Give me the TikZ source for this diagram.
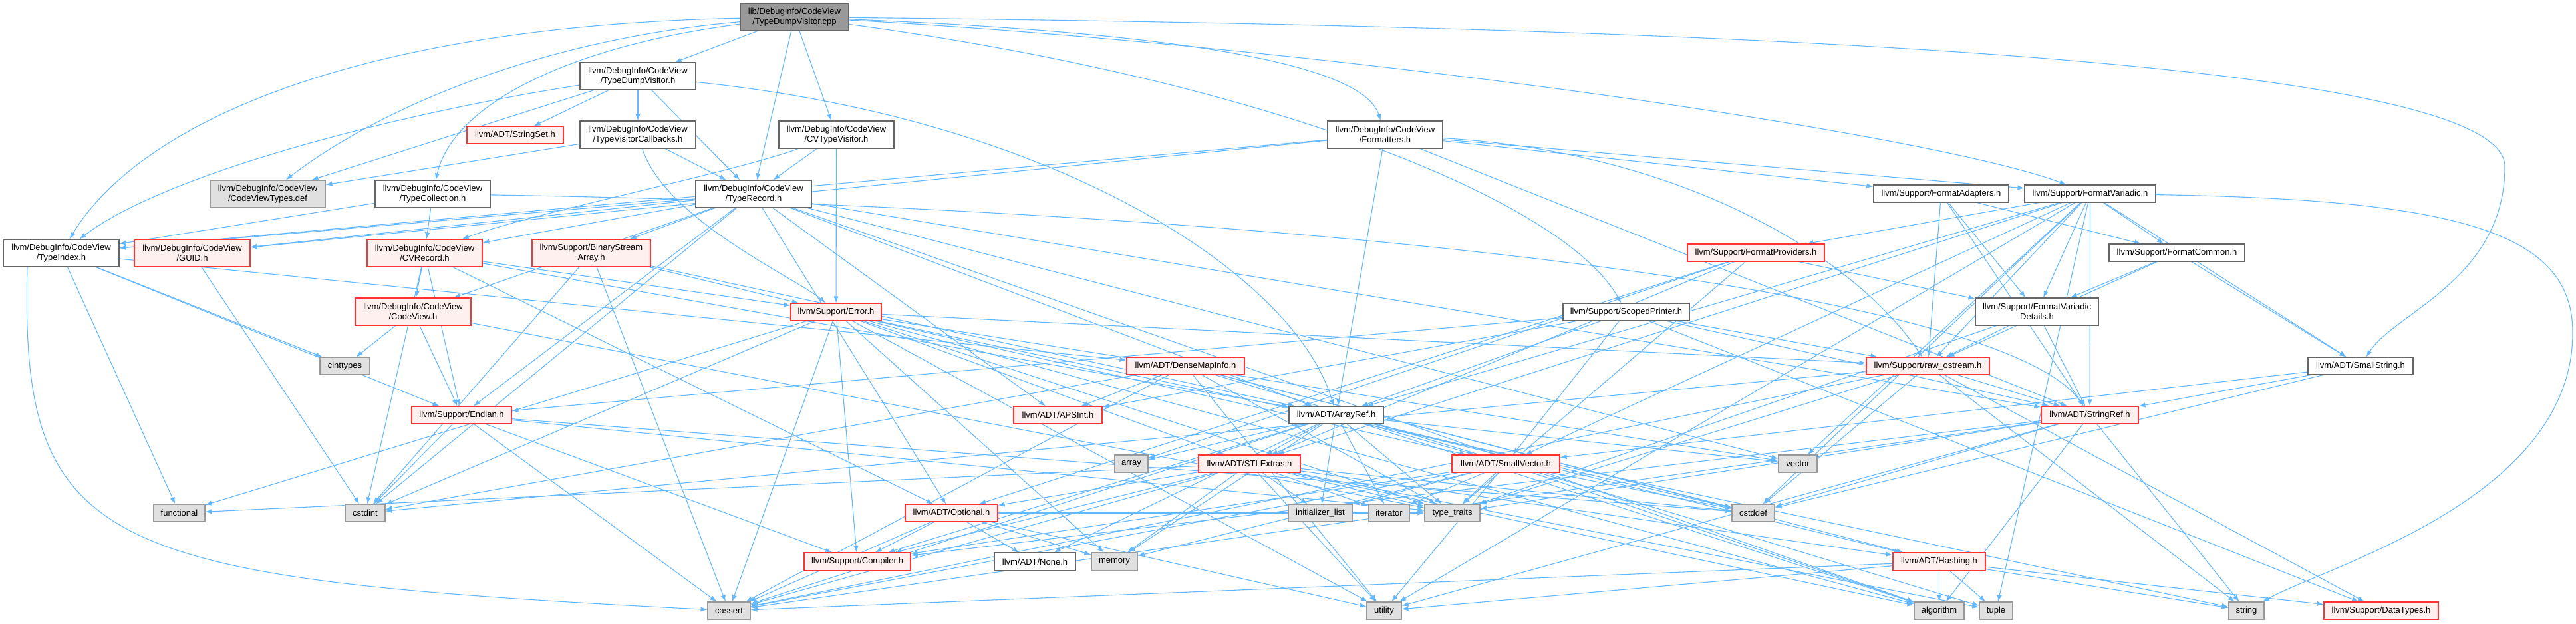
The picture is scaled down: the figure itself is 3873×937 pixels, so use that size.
\documentclass[tikz,border=0pt]{standalone}
\usepackage{fontspec}
\setmainfont{Liberation Sans}
\usetikzlibrary{arrows.meta}
\pgfdeclarelayer{background}
\pgfsetlayers{background,main}
\definecolor{edgeC}{HTML}{63B8FF}
\definecolor{grayD}{HTML}{666666}
\definecolor{grayM}{HTML}{999999}
\definecolor{grayF}{HTML}{E0E0E0}
\definecolor{redB}{HTML}{FF3333}
\definecolor{redF}{HTML}{FFF0F0}
\tikzset{
  base/.style={draw, rectangle, inner sep=0pt, align=center, line width=1.1pt,
    font=\fontsize{13}{15}\selectfont, text=black},
  wn/.style={base, draw=grayD, fill=white},
  rn/.style={base, draw=redB, fill=redF},
  gn/.style={base, draw=grayM, fill=grayF},
  rootn/.style={base, draw=grayD, fill=grayM},
  e/.style={draw=edgeC, line width=1.1pt, -{Latex[length=10pt,width=7.5pt]}},
}
\begin{document}
\begin{tikzpicture}[x=1pt,y=-1pt]
\useasboundingbox (0,0) rectangle (3873,937);
% row 0
\node[rootn, minimum width=163pt, minimum height=41pt] (root) at (1194.5,25.5) {lib/DebugInfo/CodeView\\/TypeDumpVisitor.cpp};
% row 1
\node[wn, minimum width=174pt, minimum height=41pt] (tdvh) at (959,114.5) {llvm/DebugInfo/CodeView\\/TypeDumpVisitor.h};
% row 2
\node[wn, minimum width=174pt, minimum height=41pt] (tvc) at (959,202.5) {llvm/DebugInfo/CodeView\\/TypeVisitorCallbacks.h};
\node[wn, minimum width=173pt, minimum height=41pt] (cvtv) at (1257.5,202.5) {llvm/DebugInfo/CodeView\\/CVTypeVisitor.h};
\node[rn, minimum width=145pt, minimum height=26pt] (sset) at (774.5,203) {llvm/ADT/StringSet.h};
\node[wn, minimum width=173pt, minimum height=41pt] (fmts) at (2082.5,202.5) {llvm/DebugInfo/CodeView\\/Formatters.h};
% row 3
\node[wn, minimum width=174pt, minimum height=41pt] (trec) at (1133,291.5) {llvm/DebugInfo/CodeView\\/TypeRecord.h};
\node[gn, minimum width=173pt, minimum height=41pt] (cvtdef) at (402.5,291.5) {llvm/DebugInfo/CodeView\\/CodeViewTypes.def};
\node[wn, minimum width=173pt, minimum height=41pt] (tcoll) at (650.5,291.5) {llvm/DebugInfo/CodeView\\/TypeCollection.h};
\node[wn, minimum width=203pt, minimum height=26pt] (fadapt) at (2918.5,291) {llvm/Support/FormatAdapters.h};
\node[wn, minimum width=197pt, minimum height=26pt] (fvar) at (3142.5,291) {llvm/Support/FormatVariadic.h};
% row 4
\node[wn, minimum width=174pt, minimum height=41pt] (tidx) at (92,380.5) {llvm/DebugInfo/CodeView\\/TypeIndex.h};
\node[rn, minimum width=174pt, minimum height=41pt] (guid) at (289,380.5) {llvm/DebugInfo/CodeView\\/GUID.h};
\node[rn, minimum width=173pt, minimum height=41pt] (cvrec) at (638.5,380.5) {llvm/DebugInfo/CodeView\\/CVRecord.h};
\node[rn, minimum width=178pt, minimum height=41pt] (bsa) at (889,380.5) {llvm/Support/BinaryStream\\Array.h};
\node[rn, minimum width=206pt, minimum height=26pt] (fprov) at (2640,380) {llvm/Support/FormatProviders.h};
\node[wn, minimum width=204pt, minimum height=26pt] (fcommon) at (3273,380) {llvm/Support/FormatCommon.h};
% row 5
\node[rn, minimum width=174pt, minimum height=41pt] (cview) at (621,468.5) {llvm/DebugInfo/CodeView\\/CodeView.h};
\node[rn, minimum width=136pt, minimum height=26pt] (err) at (1257,469) {llvm/Support/Error.h};
\node[wn, minimum width=190pt, minimum height=26pt] (sprint) at (2445,469) {llvm/Support/ScopedPrinter.h};
\node[wn, minimum width=185pt, minimum height=41pt] (fvd) at (3062.5,468.5) {llvm/Support/FormatVariadic\\Details.h};
% row 6
\node[gn, minimum width=75pt, minimum height=26pt] (cinttypes) at (518.5,550) {cinttypes};
\node[rn, minimum width=177pt, minimum height=26pt] (dmi) at (1782.5,550) {llvm/ADT/DenseMapInfo.h};
\node[rn, minimum width=185pt, minimum height=26pt] (rawos) at (2898.5,550) {llvm/Support/raw\_ostream.h};
\node[wn, minimum width=158pt, minimum height=26pt] (sstr) at (3549,550) {llvm/ADT/SmallString.h};
% row 7
\node[rn, minimum width=150pt, minimum height=26pt] (endian) at (694,624) {llvm/Support/Endian.h};
\node[rn, minimum width=133pt, minimum height=26pt] (apsint) at (1590.5,624) {llvm/ADT/APSInt.h};
\node[wn, minimum width=142pt, minimum height=26pt] (aref) at (2009,624) {llvm/ADT/ArrayRef.h};
\node[rn, minimum width=146pt, minimum height=26pt] (sref) at (3142,624) {llvm/ADT/StringRef.h};
% row 8
\node[gn, minimum width=50pt, minimum height=26pt] (array) at (1701,697) {array};
\node[rn, minimum width=153pt, minimum height=26pt] (stlx) at (1878.5,697) {llvm/ADT/STLExtras.h};
\node[rn, minimum width=162pt, minimum height=26pt] (svec) at (2264,697) {llvm/ADT/SmallVector.h};
\node[gn, minimum width=58pt, minimum height=26pt] (vector) at (2703,697) {vector};
% row 9
\node[gn, minimum width=77pt, minimum height=26pt] (functional) at (269.5,771) {functional};
\node[gn, minimum width=60pt, minimum height=26pt] (cstdint) at (549,771) {cstdint};
\node[rn, minimum width=139pt, minimum height=26pt] (opt) at (1430.5,771) {llvm/ADT/Optional.h};
\node[gn, minimum width=96pt, minimum height=26pt] (initlist) at (1985,771) {initializer\_list};
\node[gn, minimum width=61pt, minimum height=26pt] (iterator) at (2088.5,771) {iterator};
\node[gn, minimum width=83pt, minimum height=26pt] (typetraits) at (2183.5,771) {type\_traits};
\node[gn, minimum width=64pt, minimum height=26pt] (cstddef) at (2636,771) {cstddef};
% row 10
\node[rn, minimum width=160pt, minimum height=27pt] (compiler) at (1289,844.5) {llvm/Support/Compiler.h};
\node[wn, minimum width=122pt, minimum height=27pt] (none) at (1556,844.5) {llvm/ADT/None.h};
\node[gn, minimum width=69pt, minimum height=27pt] (memory) at (1675.5,844.5) {memory};
\node[rn, minimum width=139pt, minimum height=27pt] (hashing) at (2915.5,844.5) {llvm/ADT/Hashing.h};
% row 11
\node[gn, minimum width=64pt, minimum height=26pt] (cassert) at (1096,918) {cassert};
\node[gn, minimum width=52pt, minimum height=26pt] (utility) at (2081,918) {utility};
\node[gn, minimum width=75pt, minimum height=26pt] (algorithm) at (2915.5,918) {algorithm};
\node[gn, minimum width=50pt, minimum height=26pt] (tuple) at (3001,918) {tuple};
\node[gn, minimum width=53pt, minimum height=26pt] (string) at (3377.5,918) {string};
\node[rn, minimum width=172pt, minimum height=26pt] (datatypes) at (3580,918) {llvm/Support/DataTypes.h};

\begin{pgfonlayer}{background}
\fill[white] (0,0) rectangle (3873,937);
\foreach \a/\b in {root/tdvh, root/trec, root/cvtv,
 tdvh/cvtdef, tdvh/sset, tdvh/tvc, tdvh/trec,
 tvc/cvtdef, tvc/trec, cvtv/trec, cvtv/err,
 tcoll/tidx, tcoll/cvrec,
 fmts/tidx, fmts/guid, fmts/fadapt, fmts/aref, fmts/fvar, fmts/sref,
 trec/tidx, trec/guid, trec/cvrec, trec/bsa, trec/cview, trec/apsint, trec/aref, trec/opt, trec/sref, trec/endian, trec/algorithm, trec/cstdint, trec/vector,
 tidx/dmi, tidx/endian, tidx/cinttypes, tidx/functional,
 guid/cstdint,
 cvrec/cview, cvrec/endian, cvrec/cstdint, cvrec/aref, cvrec/opt, cvrec/err,
 cview/cinttypes, cview/endian, cview/typetraits,
 bsa/aref, bsa/err, bsa/cassert, bsa/cstdint,
 endian/compiler, endian/cassert, endian/cstddef, endian/cstdint, endian/typetraits,
 err/compiler, err/rawos, err/stlx, err/svec, err/algorithm, err/cassert, err/cstdint, err/functional, err/memory, err/string, err/typetraits, err/utility, err/vector,
 dmi/apsint, dmi/hashing, dmi/cassert, dmi/cstddef, dmi/cstdint, dmi/tuple, dmi/typetraits, dmi/utility,
 sprint/apsint, sprint/aref, sprint/svec, sprint/sref, sprint/datatypes, sprint/endian, sprint/rawos,
 fprov/stlx, fprov/fvd, fprov/array, fprov/typetraits, fprov/opt,
 fadapt/rawos, fadapt/fvd, fadapt/fcommon, fadapt/sref,
 fvar/fprov, fvar/fvd, fvar/fcommon, fvar/rawos, fvar/aref, fvar/stlx, fvar/sstr, fvar/svec, fvar/sref, fvar/tuple, fvar/vector, fvar/cstddef, fvar/utility,
 fcommon/fvd, fcommon/rawos, fcommon/sstr,
 fvd/rawos, fvd/sref, fvd/typetraits,
 rawos/sref, rawos/datatypes, rawos/cassert, rawos/cstddef, rawos/cstdint, rawos/string, rawos/typetraits,
 sstr/svec, sstr/sref, sstr/cstddef,
 sref/compiler, sref/algorithm, sref/cassert, sref/cstddef, sref/string, sref/typetraits, sref/utility,
 aref/hashing, aref/none, aref/svec, aref/stlx, aref/compiler, aref/algorithm, aref/array, aref/cassert, aref/cstddef, aref/initlist, aref/iterator, aref/memory, aref/typetraits, aref/vector,
 svec/compiler, svec/typetraits, svec/algorithm, svec/cassert, svec/cstddef, svec/initlist, svec/iterator, svec/memory, svec/utility,
 stlx/hashing, stlx/opt, stlx/compiler, stlx/algorithm, stlx/cassert, stlx/cstddef, stlx/functional, stlx/initlist, stlx/iterator, stlx/memory, stlx/tuple, stlx/typetraits, stlx/utility,
 opt/none, opt/compiler, opt/cassert, opt/memory, opt/utility, opt/typetraits,
 hashing/datatypes, hashing/algorithm, hashing/cassert, hashing/string, hashing/tuple, hashing/utility}
 {\draw[e] (\a) -- (\b);}
% curved connectors
\draw[e] (root) .. controls (800,60) and (560,170) .. (cvtdef);
\draw[e] (root) .. controls (500,40) and (200,200) .. (tidx);
\draw[e] (root) .. controls (850,70) and (680,160) .. (tcoll);
\draw[e] (root) .. controls (1800,50) and (2050,100) .. (fmts);
\draw[e] (root) .. controls (2000,70) and (2900,200) .. (fvar);
\draw[e] (root) .. controls (1900,120) and (2350,300) .. (sprint);
\draw[e] (root) .. controls (2600,40) and (3766,90) .. (3766,250) .. controls (3766,420) and (3600,470) .. (sstr);
\draw[e] (tdvh) .. controls (600,170) and (250,260) .. (tidx);
\draw[e] (tdvh) .. controls (1600,180) and (1950,420) .. (aref);
\draw[e] (tvc) .. controls (1000,330) and (1200,420) .. (err);
\draw[e] (cvtv) .. controls (1100,260) and (800,320) .. (cvrec);
\draw[e] (tcoll) .. controls (1800,310) and (3000,420) .. (sref);
\draw[e] (fmts) .. controls (2550,230) and (2800,400) .. (rawos);
\draw[e] ([xshift=-51pt]tidx.south) .. controls (30,830) and (150,870) .. (cassert);
\draw[e] (fvar) .. controls (3700,300) and (3868,350) .. (3868,500) .. controls (3868,750) and (3500,850) .. (string);
\end{pgfonlayer}
\end{tikzpicture}
\end{document}
